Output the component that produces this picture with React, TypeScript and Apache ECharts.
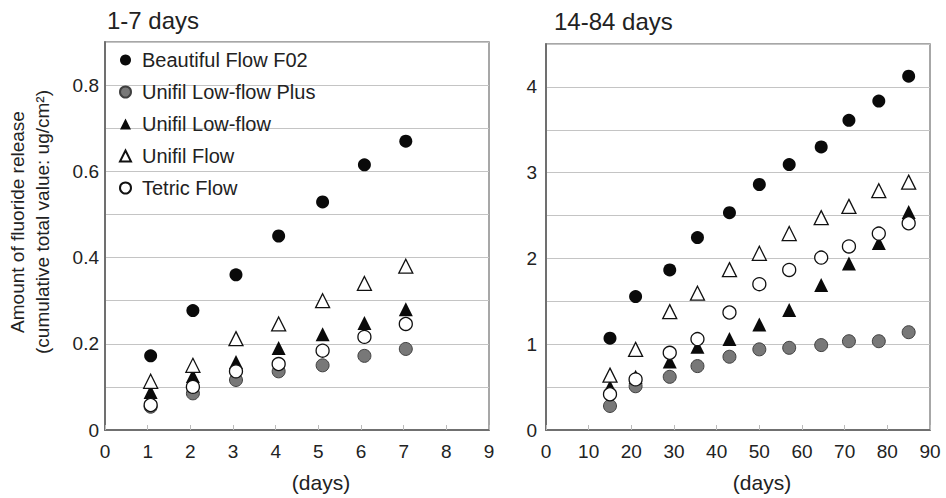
import React, { useEffect, useRef } from "react";
import * as echarts from "echarts";

const FONT = "Liberation Sans, Arial, Helvetica, sans-serif";

const seriesNames = [
  "Beautiful Flow F02",
  "Unifil Low-flow Plus",
  "Unifil Low-flow",
  "Unifil Flow",
  "Tetric Flow",
];

// 1-7 days panel
const shortDays = [1.07, 2.06, 3.07, 4.07, 5.1, 6.08, 7.05];
const shortF02 = [0.172, 0.277, 0.36, 0.45, 0.529, 0.615, 0.67];
const shortLowFlowPlus = [0.054, 0.085, 0.116, 0.136, 0.15, 0.172, 0.188];
const shortLowFlow = [0.088, 0.125, 0.158, 0.19, 0.222, 0.248, 0.28];
const shortFlow = [0.113, 0.15, 0.212, 0.246, 0.3, 0.34, 0.38];
const shortTetric = [0.058, 0.1, 0.136, 0.153, 0.184, 0.216, 0.246];

// 14-84 days panel
const longDays = [15, 21, 29, 35.5, 43, 50, 57, 64.5, 71, 78, 85];
const longF02 = [1.07, 1.556, 1.866, 2.244, 2.534, 2.862, 3.094, 3.3, 3.61, 3.835, 4.125];
const longLowFlowPlus = [0.28, 0.51, 0.62, 0.745, 0.854, 0.94, 0.958, 0.99, 1.035, 1.035, 1.14];
const longLowFlow = [0.5, 0.62, 0.8, 0.97, 1.06, 1.23, 1.4, 1.69, 1.94, 2.18, 2.54];
const longFlow = [0.64, 0.94, 1.38, 1.595, 1.87, 2.06, 2.29, 2.476, 2.607, 2.79, 2.89];
const longTetric = [0.417, 0.59, 0.9, 1.06, 1.37, 1.7, 1.866, 2.01, 2.14, 2.29, 2.41];

const titles = ["1-7 days", "14-84 days"];
const xAxisTitle = "(days)";
const yAxisTitle = "Amount of fluoride release\n(cumulative total value: ug/cm²)";

const markerStyles = [
  { symbol: "circle", size: 13, itemStyle: { color: "#0a0a0a", opacity: 1 } },
  { symbol: "circle", size: 13, itemStyle: { color: "#787878", borderColor: "#404040", borderWidth: 1, opacity: 1 } },
  { symbol: "triangle", size: 14, itemStyle: { color: "#0a0a0a", opacity: 1 } },
  { symbol: "triangle", size: 14, itemStyle: { color: "#ffffff", borderColor: "#111", borderWidth: 1.3, opacity: 1 } },
  { symbol: "circle", size: 13, itemStyle: { color: "#ffffff", borderColor: "#111", borderWidth: 1.3, opacity: 1 } },
];

export default function App() {
  const ref = useRef<HTMLDivElement>(null);

  useEffect(() => {
    if (!ref.current) return;
    const chart = echarts.init(ref.current, undefined, { renderer: "svg" });

    const shortSets = [shortF02, shortLowFlowPlus, shortLowFlow, shortFlow, shortTetric];
    const longSets = [longF02, longLowFlowPlus, longLowFlow, longFlow, longTetric];

    const series: any[] = [];
    shortSets.forEach((vals, i) => {
      series.push({
        name: seriesNames[i],
        type: "scatter",
        xAxisIndex: 0,
        yAxisIndex: 0,
        symbol: markerStyles[i].symbol,
        symbolSize: markerStyles[i].size,
        itemStyle: markerStyles[i].itemStyle,
        data: shortDays.map((d, j) => [d, vals[j]]),
      });
    });
    longSets.forEach((vals, i) => {
      series.push({
        name: seriesNames[i],
        type: "scatter",
        xAxisIndex: 1,
        yAxisIndex: 1,
        symbol: markerStyles[i].symbol,
        symbolSize: markerStyles[i].size,
        itemStyle: markerStyles[i].itemStyle,
        data: longDays.map((d, j) => [d, vals[j]]),
      });
    });

    const axisLabel = { fontFamily: FONT, fontSize: 19, color: "#222" };
    const xCommon = {
      type: "value",
      name: xAxisTitle,
      nameLocation: "middle",
      nameGap: 42,
      nameTextStyle: { fontFamily: FONT, fontSize: 21, color: "#222", padding: [0, 0, 0, 48] },
      axisLine: { show: true, lineStyle: { color: "#707070", width: 2 } },
      axisTick: { show: true, inside: true, length: 5, lineStyle: { color: "#bbbbbb" } },
      splitLine: { show: false },
      axisLabel: { ...axisLabel, margin: 12 },
    };
    const yCommon = {
      type: "value",
      axisLine: { show: true, lineStyle: { color: "#707070", width: 2 } },
      axisTick: { show: false },
      splitLine: { show: true, lineStyle: { color: "#c4c4c4", width: 1.2 } },
    };

    chart.setOption({
      animation: false,
      backgroundColor: "#ffffff",
      title: [
        {
          text: titles[0],
          left: 107,
          top: 8,
          padding: 0,
          textStyle: { fontFamily: FONT, fontSize: 24, fontWeight: "normal", color: "#222" },
        },
        {
          text: titles[1],
          left: 554,
          top: 9,
          padding: 0,
          textStyle: { fontFamily: FONT, fontSize: 24, fontWeight: "normal", color: "#222" },
        },
      ],
      legend: {
        data: seriesNames,
        orient: "vertical",
        left: 119,
        top: 50,
        padding: 0,
        itemWidth: 11,
        itemHeight: 11,
        itemGap: 12,
        textStyle: { fontFamily: FONT, fontSize: 20, color: "#222", lineHeight: 20, padding: [0, 0, 0, 6] },
      },
      grid: [
        { left: 105, right: 457, top: 42, bottom: 68, show: true, borderColor: "#8a8a8a", borderWidth: 1.5 },
        { left: 546, right: 16, top: 44, bottom: 67, show: true, borderColor: "#8a8a8a", borderWidth: 1.5 },
      ],
      xAxis: [
        { ...xCommon, gridIndex: 0, min: 0, max: 9, interval: 1 },
        { ...xCommon, gridIndex: 1, min: 0, max: 90, interval: 10 },
      ],
      yAxis: [
        {
          ...yCommon,
          gridIndex: 0,
          min: 0,
          max: 0.9,
          interval: 0.1,
          name: yAxisTitle,
          nameLocation: "middle",
          nameRotate: 90,
          nameGap: 50,
          nameTextStyle: { fontFamily: FONT, fontSize: 19, color: "#222", lineHeight: 25, padding: [0, 0, 0, 28] },
          axisLabel: {
            ...axisLabel,
            margin: 6,
            padding: [10, 0, 0, 0],
            formatter: (v: number) => {
              const k = Math.round(v * 10);
              if (k % 2 !== 0 || k > 8) return "";
              return k === 0 ? "0" : (k / 10).toFixed(1);
            },
          },
        },
        {
          ...yCommon,
          gridIndex: 1,
          min: 0,
          max: 4.5,
          interval: 0.5,
          axisLabel: {
            ...axisLabel,
            margin: 9,
            padding: [10, 0, 0, 0],
            formatter: (v: number) => (Math.abs(v - Math.round(v)) < 1e-6 ? String(Math.round(v)) : ""),
          },
        },
      ],
      series,
    });

    return () => chart.dispose();
  }, []);

  return (
    <div
      ref={ref}
      style={{ position: "fixed", left: 0, top: 0, width: 946, height: 498, background: "#fff" }}
    />
  );
}
